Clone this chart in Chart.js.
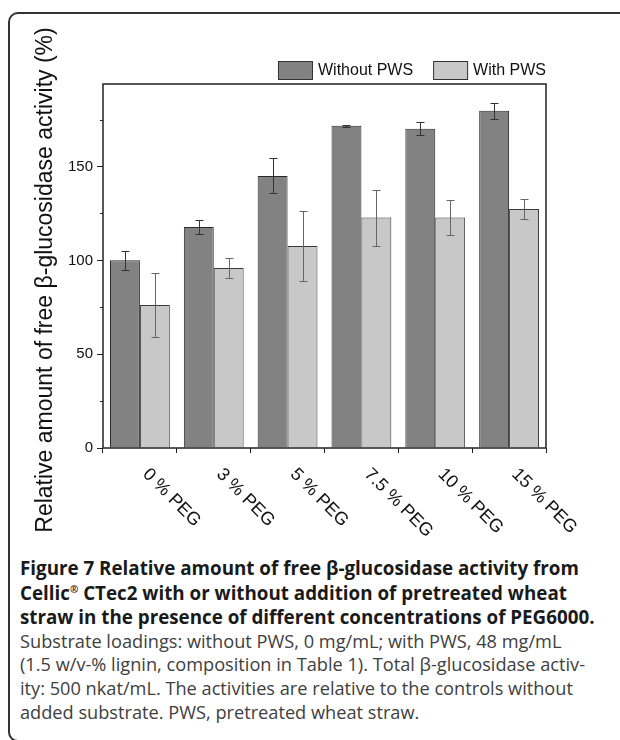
<!DOCTYPE html>
<html>
<head>
<meta charset="utf-8">
<script src="https://cdn.jsdelivr.net/npm/chart.js@4.4.1/dist/chart.umd.min.js"></script>
<style>
  html, body { margin: 0; padding: 0; background: #fff; }
  body { width: 620px; height: 740px; position: relative; overflow: hidden; }
  #frame { position: absolute; left: 8px; top: 12px; width: 700px; height: 726px; border: 2px solid #333; border-radius: 10px; }
  #wrap { position: absolute; left: 0; top: 0; width: 620px; height: 545px; }
  #caption { position: absolute; left: 20px; top: 556px; font-family: "Open Sans", sans-serif; white-space: nowrap; }
  .b { font-weight: 700; font-size: 18.8px; line-height: 24.5px; height: 24.5px; color: #1a1a1a; }
  .r { font-weight: 400; font-size: 18.2px; line-height: 23.7px; height: 23.7px; color: #404040; }
  sup { font-size: 10px; line-height: 0; vertical-align: 7px; }
</style>
</head>
<body>
<div id="frame"></div>
<div id="wrap"><canvas id="chart" width="620" height="545"></canvas></div>
<div id="caption">
  <div class="b">Figure 7 Relative amount of free β-glucosidase activity from</div>
  <div class="b">Cellic<sup>®</sup> CTec2 with or without addition of pretreated wheat</div>
  <div class="b">straw in the presence of different concentrations of PEG6000.</div>
  <div class="r">Substrate loadings: without PWS, 0 mg/mL; with PWS, 48 mg/mL</div>
  <div class="r">(1.5 w/v-% lignin, composition in Table 1). Total β-glucosidase activ-</div>
  <div class="r">ity: 500 nkat/mL. The activities are relative to the controls without</div>
  <div class="r">added substrate. PWS, pretreated wheat straw.</div>
</div>
<script>
// data
const categories = ["0 % PEG", "3 % PEG", "5 % PEG", "7.5 % PEG", "10 % PEG", "15 % PEG"];
const withoutPWS = [100, 117.8, 145.0, 171.7, 170.1, 179.7];
const withoutErr = [5.0, 3.9, 9.3, 0.5, 3.4, 4.3];
const withPWS = [76.2, 95.9, 107.7, 122.8, 122.9, 127.4];
const withErr = [17.2, 5.1, 18.6, 14.9, 9.4, 5.3];
const yTicks = [0, 50, 100, 150];
const yMinorTicks = [25, 75, 125, 175];
const yTitle = "Relative amount of free β-glucosidase activity (%)";

Chart.defaults.font.family = "'Liberation Sans', Arial, sans-serif";
Chart.defaults.color = "#111";

// error bars, plot box, minor ticks, legend, rotated labels, y title
const extras = {
  id: "extras",
  afterDatasetsDraw(chart) {
    const ctx = chart.ctx;
    const y = chart.scales.y;
    const x = chart.scales.x;
    const a = chart.chartArea;
    const errs = [withoutErr, withErr];
    const errColors = ["#333", "#666"];

    ctx.save();
    errs.forEach((e, di) => {
      const meta = chart.getDatasetMeta(di);
      const vals = chart.data.datasets[di].data;
      ctx.strokeStyle = errColors[di];
      ctx.lineWidth = 1;
      meta.data.forEach((bar, i) => {
        const cx = Math.round(bar.x) + 0.5;
        const t = Math.round(y.getPixelForValue(vals[i] + e[i])) + 0.5;
        const b = Math.round(y.getPixelForValue(vals[i] - e[i])) + 0.5;
        ctx.beginPath();
        ctx.moveTo(cx, t); ctx.lineTo(cx, b);
        ctx.moveTo(cx - 4, t); ctx.lineTo(cx + 4, t);
        ctx.moveTo(cx - 4, b); ctx.lineTo(cx + 4, b);
        ctx.stroke();
      });
    });

    // plot box
    ctx.strokeStyle = "#222";
    ctx.lineWidth = 1.5;
    ctx.strokeRect(a.left, a.top, a.right - a.left, a.bottom - a.top);

    // minor ticks
    ctx.lineWidth = 1;
    ctx.beginPath();
    yMinorTicks.forEach(v => {
      const py = Math.round(y.getPixelForValue(v)) + 0.5;
      ctx.moveTo(a.left - 3, py); ctx.lineTo(a.left, py);
    });
    ctx.stroke();

    // legend, right aligned above the plot
    ctx.font = "16px 'Liberation Sans', Arial, sans-serif";
    ctx.textBaseline = "middle";
    ctx.textAlign = "left";
    let px = a.right;
    for (let i = chart.data.datasets.length - 1; i >= 0; i--) {
      const ds = chart.data.datasets[i];
      const w = ctx.measureText(ds.label).width;
      px -= w;
      ctx.fillStyle = "#111";
      ctx.fillText(ds.label, px, 71);
      px -= 5 + 35;
      ctx.fillStyle = ds.backgroundColor;
      ctx.fillRect(px, 61, 35, 19);
      ctx.strokeStyle = "#333";
      ctx.strokeRect(px + 0.5, 61.5, 34, 18);
      px -= 20;
    }

    // x labels, rotated 45 deg downwards
    ctx.font = "18px 'Liberation Sans', Arial, sans-serif";
    ctx.fillStyle = "#111";
    ctx.textBaseline = "alphabetic";
    categories.forEach((c, i) => {
      const lx = x.getPixelForValue(i) + 2;
      ctx.save();
      ctx.translate(lx, a.bottom + 27);
      ctx.rotate(Math.PI / 4);
      ctx.fillText(c, 0, 0);
      ctx.restore();
    });

    // y title
    ctx.font = "23px 'Liberation Sans', Arial, sans-serif";
    ctx.textAlign = "center";
    ctx.save();
    ctx.translate(52, 280);
    ctx.rotate(-Math.PI / 2);
    ctx.fillText(yTitle, 0, 0);
    ctx.restore();
    ctx.restore();
  }
};

new Chart(document.getElementById("chart"), {
  type: "bar",
  data: {
    labels: categories,
    datasets: [
      { label: "Without PWS", data: withoutPWS, backgroundColor: "#828282", borderColor: "#2a2a2a", borderWidth: 1 },
      { label: "With PWS", data: withPWS, backgroundColor: "#c8c8c8", borderColor: "#3a3a3a", borderWidth: 1 }
    ]
  },
  options: {
    responsive: false,
    animation: false,
    devicePixelRatio: 1,
    layout: { padding: { left: 0, right: 74, top: 84, bottom: 0 } },
    datasets: { bar: { categoryPercentage: 0.81, barPercentage: 1.0 } },
    plugins: { legend: { display: false }, tooltip: { enabled: false } },
    scales: {
      x: {
        grid: { drawOnChartArea: false, tickLength: 5, color: "#222" },
        border: { display: false },
        ticks: { display: false },
        afterFit: s => { s.height = 97; }
      },
      y: {
        min: 0,
        max: 194,
        afterBuildTicks: s => { s.ticks = yTicks.map(v => ({ value: v })); },
        grid: { drawOnChartArea: false, tickLength: 6, color: "#222" },
        border: { display: false },
        ticks: { font: { size: 15 }, color: "#111", padding: 4 },
        afterFit: s => { s.width = 103; }
      }
    }
  },
  plugins: [extras]
});
</script>
</body>
</html>
